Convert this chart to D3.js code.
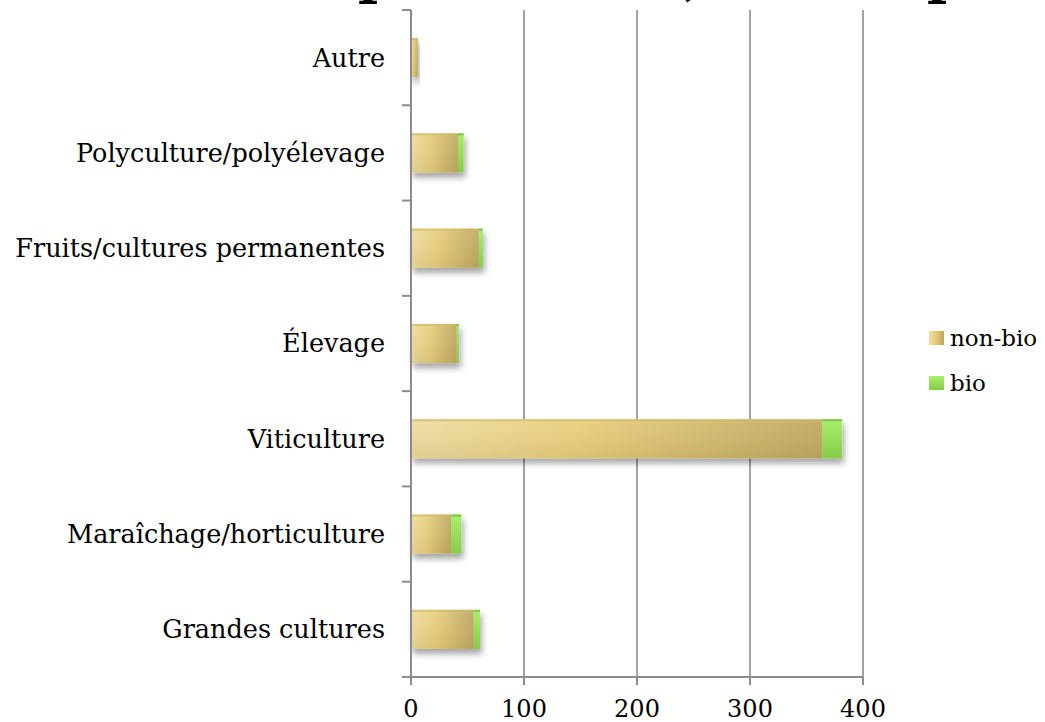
<!DOCTYPE html>
<html>
<head>
<meta charset="utf-8">
<script src="https://cdn.jsdelivr.net/npm/d3@7"></script>
<style>
  body { margin: 0; background: #fff; }
  svg { display: block; }
  text { font-family: "DejaVu Serif", Georgia, serif; fill: #000; }
</style>
</head>
<body>
<svg id="chart" width="1045" height="722"></svg>
<script>
// data
var categories = ['Autre', 'Polyculture/polyélevage', 'Fruits/cultures permanentes', 'Élevage',
                  'Viticulture', 'Maraîchage/horticulture', 'Grandes cultures'];
var nonBio = [6, 41.5, 60, 40.5, 364, 35.5, 55.5];
var bio    = [0, 5, 3.5, 2, 17.5, 9, 5.5];
var xTicks = [0, 100, 200, 300, 400];
var seriesNames = ['non-bio', 'bio'];
var titleText = "Nombre d'exploitations, en bio par OTEX";

var width = 1045, height = 722;
var svg = d3.select('#chart');

var x = d3.scaleLinear().domain([0, 400]).range([411, 863]);
var y = d3.scaleBand().domain(categories).range([10, 677]).paddingInner(0.59).paddingOuter(0.295);

var defs = svg.append('defs');

// gradients, roughly like the office style
var tan = defs.append('linearGradient').attr('id', 'tan').attr('x1', 0).attr('x2', 1).attr('y1', 0).attr('y2', 0);
tan.append('stop').attr('offset', '0%').attr('stop-color', '#efdca0');
tan.append('stop').attr('offset', '40%').attr('stop-color', '#e8cf7c');
tan.append('stop').attr('offset', '100%').attr('stop-color', '#bea860');

var tanV = defs.append('linearGradient').attr('id', 'tanV').attr('x1', 0).attr('x2', 0).attr('y1', 0).attr('y2', 1);
tanV.append('stop').attr('offset', '0%').attr('stop-color', '#fff').attr('stop-opacity', 0.08);
tanV.append('stop').attr('offset', '100%').attr('stop-color', '#7a6a30').attr('stop-opacity', 0.12);

var green = defs.append('linearGradient').attr('id', 'green').attr('x1', 0).attr('x2', 0).attr('y1', 0).attr('y2', 1);
green.append('stop').attr('offset', '0%').attr('stop-color', '#a8f06c');
green.append('stop').attr('offset', '100%').attr('stop-color', '#86cc48');

var shadow = defs.append('filter').attr('id', 'shadow').attr('x', '-10%').attr('y', '-20%').attr('width', '130%').attr('height', '160%');
shadow.append('feDropShadow').attr('dx', 2).attr('dy', 5).attr('stdDeviation', 3)
  .attr('flood-color', '#000').attr('flood-opacity', 0.35);

// title, mostly cut off by the top edge (only descenders show)
var title = svg.append('text')
  .attr('y', -7)
  .style('font-size', '54px').style('font-weight', 'bold')
  .text(titleText);
var pre = title.node().getSubStringLength(0, titleText.indexOf('p'));
title.attr('x', 358 - pre);

// grid lines
svg.append('g').selectAll('line')
  .data(xTicks.slice(1))
  .join('line')
  .attr('x1', d => x(d)).attr('x2', d => x(d))
  .attr('y1', 10).attr('y2', 684)
  .attr('stroke', '#8c8c8c').attr('stroke-width', 1.6);

// bars
var rows = categories.map((c, i) => ({cat: c, nb: nonBio[i], b: bio[i]}));
var bars = svg.append('g').selectAll('g')
  .data(rows)
  .join('g')
  .attr('filter', 'url(#shadow)');

bars.append('rect')
  .attr('x', x(0)).attr('y', d => y(d.cat))
  .attr('width', d => x(d.nb) - x(0)).attr('height', y.bandwidth())
  .attr('fill', 'url(#tan)');
bars.append('rect')
  .attr('x', x(0)).attr('y', d => y(d.cat))
  .attr('width', d => x(d.nb) - x(0)).attr('height', y.bandwidth())
  .attr('fill', 'url(#tanV)');
bars.append('rect')
  .attr('x', d => x(d.nb)).attr('y', d => y(d.cat))
  .attr('width', d => x(d.nb + d.b) - x(d.nb)).attr('height', y.bandwidth())
  .attr('fill', 'url(#green)');
// thin top edges
bars.append('rect')
  .attr('x', x(0)).attr('y', d => y(d.cat))
  .attr('width', d => x(d.nb) - x(0)).attr('height', 2)
  .attr('fill', '#d2b866').attr('opacity', 0.7);
bars.append('rect')
  .attr('x', d => x(d.nb)).attr('y', d => y(d.cat))
  .attr('width', d => x(d.nb + d.b) - x(d.nb)).attr('height', 2)
  .attr('fill', '#80c44a');

// y axis
var yAxis = svg.append('g');
yAxis.append('line')
  .attr('x1', x(0)).attr('x2', x(0)).attr('y1', 10).attr('y2', 685)
  .attr('stroke', '#8c8c8c').attr('stroke-width', 2);
var edges = categories.map(c => y(c) - y.step() * y.paddingInner() / 2);
yAxis.selectAll('.tk')
  .data(edges)
  .join('line')
  .attr('x1', 402).attr('x2', x(0))
  .attr('y1', d => d).attr('y2', d => d)
  .attr('stroke', '#8c8c8c').attr('stroke-width', 2);

yAxis.selectAll('text')
  .data(categories)
  .join('text')
  .attr('x', 385)
  .attr('y', d => y(d) + y.bandwidth() / 2)
  .attr('dy', '0.35em')
  .attr('text-anchor', 'end')
  .style('font-size', '25.5px')
  .text(d => d);

// x axis
var xAxis = svg.append('g');
xAxis.append('line')
  .attr('x1', 402).attr('x2', x(400)).attr('y1', 677).attr('y2', 677)
  .attr('stroke', '#8c8c8c').attr('stroke-width', 2);
xAxis.selectAll('line.tk')
  .data(xTicks)
  .join('line')
  .attr('class', 'tk')
  .attr('x1', d => x(d)).attr('x2', d => x(d))
  .attr('y1', 677).attr('y2', 685)
  .attr('stroke', '#8c8c8c').attr('stroke-width', 2);
xAxis.selectAll('text')
  .data(xTicks)
  .join('text')
  .attr('x', d => x(d)).attr('y', 717)
  .attr('text-anchor', 'middle')
  .style('font-size', '24px')
  .text(d => d);

// legend
var legend = svg.append('g').selectAll('g')
  .data(seriesNames)
  .join('g')
  .attr('transform', (d, i) => 'translate(929,' + (331 + i * 45) + ')');
legend.append('rect')
  .attr('width', 15).attr('height', 14)
  .attr('fill', (d, i) => i === 0 ? 'url(#tan)' : 'url(#green)');
legend.append('text')
  .attr('x', 21).attr('y', 7).attr('dy', '0.35em')
  .style('font-size', '23px')
  .text(d => d);
</script>
</body>
</html>
